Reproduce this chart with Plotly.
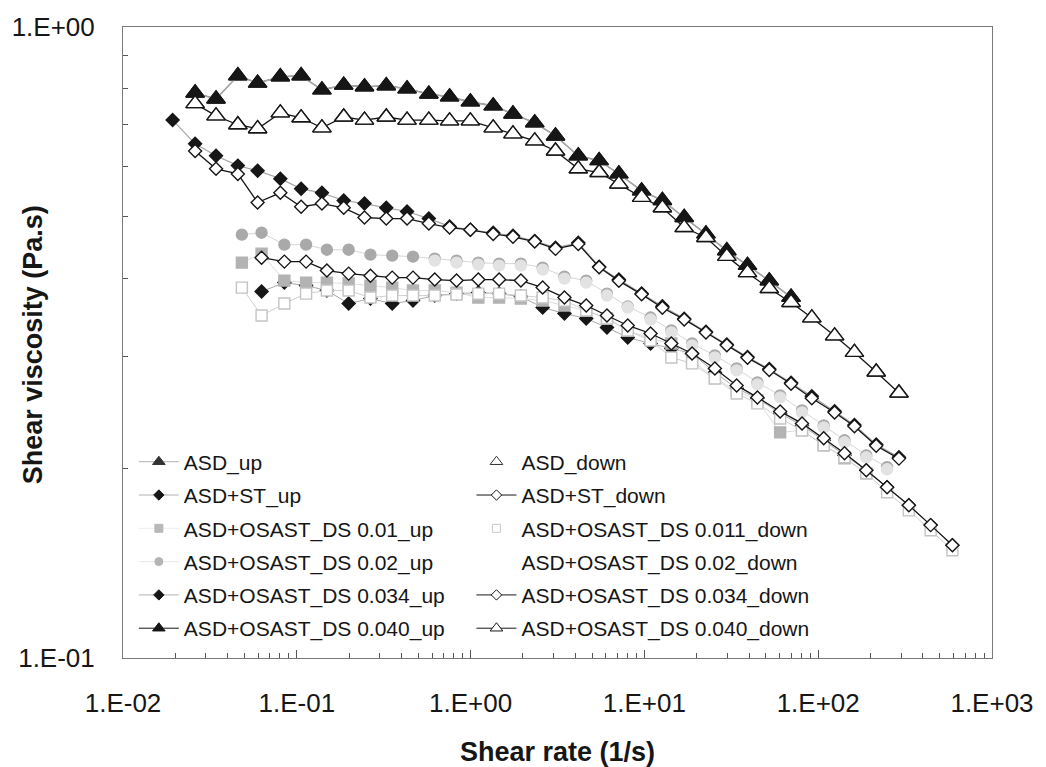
import plotly.graph_objects as go

# ---------------- data ----------------
X_UP = [0.0193, 0.0260, 0.0343, 0.0458, 0.0595, 0.0804, 0.1059, 0.1395, 0.1862, 0.2452,
        0.3272, 0.4309, 0.575, 0.757, 0.997, 1.349, 1.753, 2.339, 3.08, 4.165,
        5.49, 7.13, 9.64, 12.69, 16.94, 22.6, 29.8, 39.2, 52.3, 69.8,
        91.9, 124.3, 161.6, 215.7, 291.5]

X_LO = [0.0483, 0.0627, 0.0848, 0.1131, 0.149, 0.1988, 0.2653, 0.354, 0.4662, 0.622,
        0.83, 1.108, 1.459, 1.947, 2.598, 3.467, 4.626, 6.09, 8.02, 10.85,
        14.29, 18.81, 25.44, 33.95, 44.7, 60.4, 80.7, 107.6, 141.7, 189.1,
        249.1, 332.3, 443.6, 591.8]

ASD_UP = [0.786, 0.769, 0.837, 0.815, 0.834, 0.837, 0.795, 0.809, 0.804, 0.807,
          0.798, 0.783, 0.775, 0.761, 0.750, 0.728, 0.705, 0.672, 0.625, 0.614,
          0.585, 0.550, 0.531, 0.499, 0.470, 0.442, 0.419, 0.396, 0.373]

ASD_DOWN = [0.756, 0.723, 0.700, 0.690, 0.731, 0.718, 0.692, 0.720, 0.712, 0.720,
            0.712, 0.712, 0.710, 0.710, 0.692, 0.677, 0.660, 0.636, 0.596, 0.588,
            0.564, 0.537, 0.517, 0.481, 0.464, 0.433, 0.408, 0.385, 0.366, 0.346,
            0.324, 0.305, 0.284, 0.263]

ASDST_UP = [0.712, 0.653, 0.625, 0.603, 0.592, 0.575, 0.554, 0.546, 0.531, 0.525,
            0.517, 0.510, 0.497, 0.483, 0.477, 0.472, 0.467, 0.458, 0.447, 0.455,
            0.417, 0.398, 0.378, 0.361, 0.345, 0.329, 0.314, 0.300, 0.287, 0.273,
            0.260, 0.246, 0.234, 0.218, 0.208]

ASDST_DOWN = [0.636, 0.596, 0.585, 0.527, 0.546, 0.519, 0.525, 0.517, 0.499, 0.497,
              0.497, 0.488, 0.481, 0.477, 0.470, 0.465, 0.457, 0.445, 0.453, 0.416,
              0.396, 0.377, 0.359, 0.344, 0.328, 0.313, 0.299, 0.286, 0.272, 0.258,
              0.245, 0.233, 0.217, 0.207]

DS001_UP = [0.4232, 0.4373, 0.3964, 0.3935, 0.3935, 0.3921, 0.3892, 0.3864, 0.3822, 0.3822,
            0.3794, 0.3726, 0.3726, 0.3712, 0.3685, 0.3619, 0.3553, 0.3452, 0.3304, 0.3209,
            0.3151, 0.2962, 0.2774, 0.2655, 0.2560, 0.2278, 0.2295, 0.2173, 0.2072, 0.1962]

DS0011_DOWN = [0.3864, 0.3489, 0.3645, 0.3780, 0.3822, 0.3822, 0.3726, 0.3753, 0.3753, 0.3753,
               0.3767, 0.3780, 0.3780, 0.3753, 0.3726, 0.3685, 0.3553, 0.3452, 0.3304, 0.3185,
               0.2994, 0.2930, 0.2774, 0.2626, 0.2532, 0.2397, 0.2295, 0.2173, 0.2080, 0.1962,
               0.1831, 0.1714, 0.1594, 0.1482]

DS002_UP = [0.4687, 0.4721, 0.4519, 0.4519, 0.4437, 0.4437, 0.4357, 0.4342, 0.4326, 0.4295,
            0.4264, 0.4232, 0.4217, 0.4217, 0.4156, 0.4022, 0.3964, 0.3780, 0.3606, 0.3464,
            0.3304, 0.3151, 0.3016, 0.2876, 0.2734, 0.2607, 0.2468, 0.2337, 0.2213, 0.2095,
            0.2006]

DS002_DOWN = [0.4264, 0.4232, 0.4202, 0.4187, 0.4187, 0.4126, 0.3993, 0.3935, 0.3753, 0.3593,
              0.3439, 0.3280, 0.3128, 0.2994, 0.2856, 0.2714, 0.2588, 0.2450, 0.2320, 0.2197,
              0.2080, 0.1991]

DS0034_UP = [0.3808, 0.3935, 0.3892, 0.3822, 0.3645, 0.3712, 0.3645, 0.3685, 0.3753, 0.3780,
             0.3794, 0.3780, 0.3739, 0.3593, 0.3515, 0.3452, 0.3340, 0.3220, 0.3151, 0.3094,
             0.3038, 0.2835, 0.2675, 0.2579, 0.2441, 0.2337, 0.2213, 0.2095, 0.1984, 0.1864,
             0.1746, 0.1624, 0.1509]

DS0034_DOWN = [0.4310, 0.4248, 0.4248, 0.4111, 0.4066, 0.4036, 0.4007, 0.4007, 0.3978, 0.3964,
               0.3978, 0.3978, 0.3964, 0.3864, 0.3726, 0.3619, 0.3489, 0.3365, 0.3268, 0.3151,
               0.3038, 0.2876, 0.2704, 0.2588, 0.2459, 0.2354, 0.2229, 0.2111, 0.1984, 0.1864,
               0.1746, 0.1624, 0.1509]

# the DS 0.040 curves coincide with the ASD curves in the reference
DS0040_UP = ASD_UP
DS0040_DOWN = ASD_DOWN

X_TICKS = [0.01, 0.1, 1, 10, 100, 1000]
X_TICKTEXT = ["1.E-02", "1.E-01", "1.E+00", "1.E+01", "1.E+02", "1.E+03"]
Y_TICKS = [0.1, 1]
Y_TICKTEXT = ["1.E-01", "1.E+00"]

# ---------------- styling ----------------
FONT = "Liberation Sans, Arial, sans-serif"
BLACK = "#161616"

fig = go.Figure()


def add(name, x, y, symbol, size, mcolor, mline, lcolor, lwidth, mode="lines+markers"):
    fig.add_trace(go.Scatter(
        x=x, y=y, name=name, mode=mode, showlegend=False,
        marker=dict(symbol=symbol, size=size, color=mcolor,
                    line=dict(color=mline, width=1.4)),
        line=dict(color=lcolor, width=lwidth),
    ))


def key(name, legend, rank, symbol, size, mcolor, mline, lcolor, mode="lines+markers"):
    # legend-only entry (no data drawn) so the key symbols stay small like the original
    fig.add_trace(go.Scatter(
        x=[None], y=[None], name=name, mode=mode, legend=legend, legendrank=rank,
        legendgroup=name, showlegend=True,
        marker=dict(symbol=symbol, size=size, color=mcolor, line=dict(color=mline, width=1)),
        line=dict(color=lcolor, width=1),
    ))


# lower cluster (drawn first)
add("ASD+OSAST_DS 0.034_up", X_LO[1:], DS0034_UP, "diamond", 10, BLACK, BLACK, "#a8a8a8", 1)
add("ASD+OSAST_DS 0.02_up", X_LO[:31], DS002_UP, "circle", 11, "#a9a9a9", "#a9a9a9", "#d6d6d6", 1)
add("ASD+OSAST_DS 0.01_up", X_LO[:30], DS001_UP, "square", 11, "#b3b3b3", "#b3b3b3", "#dddddd", 1)
add("ASD+OSAST_DS 0.02_down", X_LO[9:31], DS002_DOWN, "circle", 11, "#e2e2e2", "#e2e2e2", "#ffffff", 1, mode="markers")
add("ASD+OSAST_DS 0.011_down", X_LO, DS0011_DOWN, "square", 11, "white", "#c4c4c4", "#cfcfcf", 1)
add("ASD+OSAST_DS 0.034_down", X_LO[1:], DS0034_DOWN, "diamond", 10, "white", BLACK, BLACK, 1.3)

# upper curves
add("ASD+OSAST_DS 0.040_up", X_UP[1:30], DS0040_UP, "triangle-up", 16, BLACK, BLACK, BLACK, 1)
add("ASD_up", X_UP[1:30], ASD_UP, "triangle-up", 16, BLACK, BLACK, "#a6a6a6", 1.6)
add("ASD+ST_up", X_UP, ASDST_UP, "diamond", 10, BLACK, BLACK, "#a6a6a6", 1.2)
add("ASD+ST_down", X_UP[1:], ASDST_DOWN, "diamond", 10, "white", BLACK, BLACK, 1.3)
add("ASD_down", X_UP[1:], ASD_DOWN, "triangle-up", 16, "white", BLACK, BLACK, 1, mode="markers")
add("ASD+OSAST_DS 0.040_down", X_UP[1:], DS0040_DOWN, "triangle-up", 16, "white", BLACK, BLACK, 1.3)

# legend keys
key("ASD_up", "legend", 1, "triangle-up", 11, "#333333", "#333333", "#b0b0b0")
key("ASD+ST_up", "legend", 2, "diamond", 8, BLACK, BLACK, "#b0b0b0")
key("ASD+OSAST_DS 0.01_up", "legend", 3, "square", 8, "#b8b8b8", "#b8b8b8", "#eeeeee")
key("ASD+OSAST_DS 0.02_up", "legend", 4, "circle", 8, "#b4b4b4", "#b4b4b4", "#e8e8e8")
key("ASD+OSAST_DS 0.034_up", "legend", 5, "diamond", 8, BLACK, BLACK, "#b0b0b0")
key("ASD+OSAST_DS 0.040_up", "legend", 6, "triangle-up", 11, BLACK, BLACK, BLACK)
key("ASD_down", "legend2", 1, "triangle-up", 11, "white", "#333333", "#ffffff", mode="markers")
key("ASD+ST_down", "legend2", 2, "diamond", 8, "white", BLACK, BLACK)
key("ASD+OSAST_DS 0.011_down", "legend2", 3, "square", 8, "white", "#c8c8c8", "#ffffff", mode="markers")
key("ASD+OSAST_DS 0.02_down", "legend2", 4, "circle", 8, "white", "white", "#ffffff", mode="markers")
key("ASD+OSAST_DS 0.034_down", "legend2", 5, "diamond", 8, "white", BLACK, BLACK)
key("ASD+OSAST_DS 0.040_down", "legend2", 6, "triangle-up", 11, "white", BLACK, BLACK)

minor_x = [k * 10 ** d for d in range(-2, 3) for k in range(2, 10)]
minor_y = [k / 10 for k in range(2, 10)]

axis_common = dict(
    type="log", showgrid=False, zeroline=False, showline=True, mirror=True,
    linecolor="#7a7a7a", linewidth=1, ticks="inside", tickcolor="#555555",
    tickfont=dict(family=FONT, size=26, color=BLACK), tickmode="array",
)

fig.update_xaxes(**axis_common, range=[-2, 3], tickvals=X_TICKS, ticktext=X_TICKTEXT,
                 ticklen=8, ticklabelstandoff=22,
                 minor=dict(tickmode="array", tickvals=minor_x, ticks="inside", ticklen=5,
                            tickcolor="#555555", showgrid=False))
fig.update_yaxes(**axis_common, range=[-1, 0], tickvals=Y_TICKS, ticktext=Y_TICKTEXT,
                 ticklen=8, ticklabelstandoff=22,
                 minor=dict(tickmode="array", tickvals=minor_y, ticks="inside", ticklen=5,
                            tickcolor="#555555", showgrid=False))

legend_common = dict(
    bgcolor="rgba(0,0,0,0)", font=dict(family=FONT, size=21, color=BLACK),
    xanchor="left", yanchor="top", traceorder="grouped", tracegroupgap=3,
    itemwidth=40,
)

fig.update_layout(
    width=1046, height=767,
    margin=dict(l=119, r=49, t=26, b=109),
    paper_bgcolor="white", plot_bgcolor="white",
    font=dict(family=FONT, color=BLACK),
    legend=dict(**legend_common, x=0.0125, y=0.343),
    legend2=dict(**legend_common, x=0.401, y=0.343),
    annotations=[
        dict(text="<b>Shear viscosity (Pa.s)</b>", xref="paper", yref="paper",
             x=-0.1036, y=0.497, xanchor="center", yanchor="middle", textangle=-90,
             showarrow=False, font=dict(family=FONT, size=27, color=BLACK)),
        dict(text="<b>Shear rate (1/s)</b>", xref="paper", yref="paper",
             x=0.5, y=-0.1487, xanchor="center", yanchor="middle",
             showarrow=False, font=dict(family=FONT, size=27, color=BLACK)),
    ],
)

fig.write_html("out.html")
